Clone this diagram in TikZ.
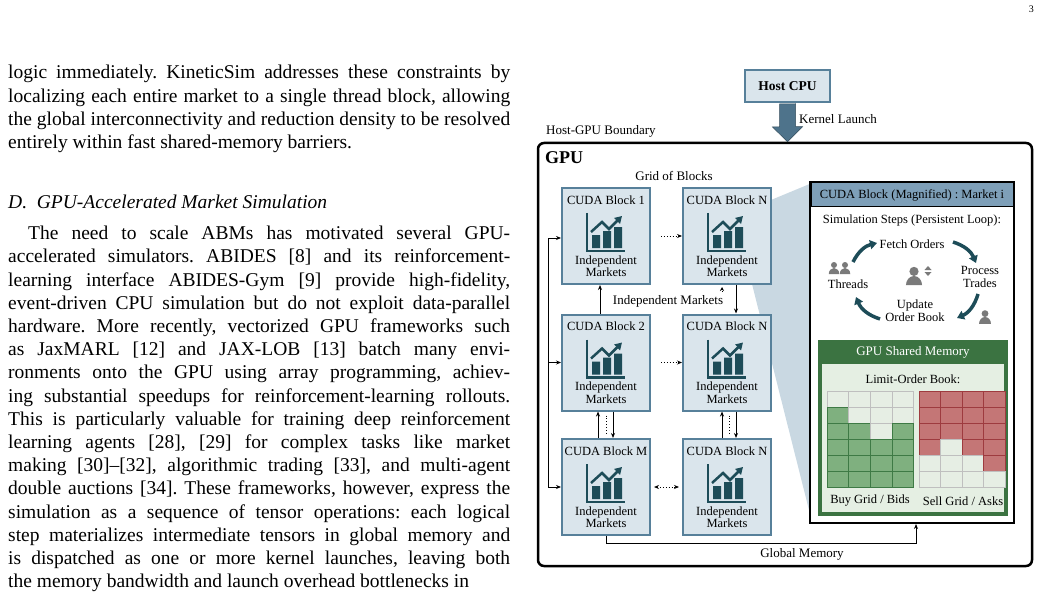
\documentclass[tikz,border=0pt]{standalone}
\usepackage{fontspec}
\setmainfont{Liberation Serif}
\usetikzlibrary{positioning,arrows.meta,calc}
\definecolor{blkfill}{HTML}{DAE5EC}
\definecolor{blkline}{HTML}{57809A}
\definecolor{hdrfill}{HTML}{7E9FB8}
\definecolor{fanfill}{HTML}{C9D8E2}
\definecolor{teal}{HTML}{1D4C58}
\definecolor{memgreen}{HTML}{3B7341}
\definecolor{memlight}{HTML}{E5EFE3}
\definecolor{cellg}{HTML}{7FB07F}
\definecolor{cellgl}{HTML}{3E7A45}
\definecolor{cellr}{HTML}{C47676}
\definecolor{cellrl}{HTML}{9E3B3F}
\definecolor{celle}{HTML}{E6EEE4}
\definecolor{persgray}{HTML}{7A7A7A}
\tikzset{
  blk/.style={draw=blkline,line width=2pt,fill=blkfill,minimum width=88,minimum height=96,inner sep=0},
  txt/.style={font=\fontsize{12.5}{13}\selectfont,inner sep=0,align=center},
  link/.style={-{Stealth[length=5,width=4]},line width=0.9pt},
  dots/.style={dotted,line width=0.9pt},
  cyc/.style={-{Triangle[length=7,width=9]},line width=3.5pt,teal},
}
\frenchspacing
\begin{document}
\begin{tikzpicture}[x=1pt,y=-1pt]
\useasboundingbox (0,0) rectangle (1041,596);
\newcommand\mkticon[2]{
\begin{scope}[shift={(#1,#2)}]
\draw[teal,line width=2.2pt] (-19,-19) -- (-19,19) -- (19,19);
\fill[teal] (-14,16) rectangle (-6,3) (-3,16) rectangle (5,-1) (8,16) rectangle (16,-5);
\draw[teal,line width=2.5pt,-{Triangle[length=7,width=8]}] (-15,0) -- (-4,-10) -- (3,-3) -- (16,-16);
\end{scope}
}
\newcommand\cblock[4]{
\node[blk] (#1) at (#2,#3) {};
\node[txt] (#1t) at (#2,#3-36) {#4};
\mkticon{#2}{#3-4}
\node[txt,font=\fontsize{12.5}{12.5}\selectfont] (#1m) at (#2,#3+30) {Independent\\Markets};
}
\newcommand\pers[3]{
\begin{scope}[shift={(#1,#2)},scale=#3]
\fill[persgray] (0,-4) circle (4);
\fill[persgray] (-7,8) arc (180:360:7 and 8) -- cycle;
\end{scope}
}
% page text
\node[anchor=north east,inner sep=0,font=\fontsize{10}{10}\selectfont] (pnum) at (1034,6) {3};
\node[anchor=north west,inner sep=0,text width=502,align=justify,font=\fontsize{19.5}{23.4}\selectfont] (para1) at (8,65)
{logic immediately. KineticSim addresses these constraints by\linebreak localizing each entire market to a single thread block, allowing\linebreak the global interconnectivity and reduction density to be resolved\linebreak entirely within fast shared-memory barriers.};
\node[anchor=north west,inner sep=0,font=\fontsize{19.5}{20}\itshape] (sec) at (8,195) {D.\ \ GPU-Accelerated Market Simulation};
\node[anchor=north west,inner sep=0,text width=502,align=justify,font=\fontsize{19.5}{23.2}\selectfont] (para2) at (8,226)
{\hspace*{20pt}The need to scale ABMs has motivated several GPU-\linebreak accelerated simulators. ABIDES [8] and its reinforcement-\linebreak learning interface ABIDES-Gym [9] provide high-fidelity,\linebreak event-driven CPU simulation but do not exploit data-parallel\linebreak hardware. More recently, vectorized GPU frameworks such\linebreak as JaxMARL [12] and JAX-LOB [13] batch many envi-\linebreak ronments onto the GPU using array programming, achiev-\linebreak ing substantial speedups for reinforcement-learning rollouts.\linebreak This is particularly valuable for training deep reinforcement\linebreak learning agents [28], [29] for complex tasks like market\linebreak making [30]--[32], algorithmic trading [33], and multi-agent\linebreak double auctions [34]. These frameworks, however, express the\linebreak simulation as a sequence of tensor operations: each logical\linebreak step materializes intermediate tensors in global memory and\linebreak is dispatched as one or more kernel launches, leaving both\linebreak the memory bandwidth and launch overhead bottlenecks in};
% host and gpu frame
\node[draw=blkline,line width=2pt,fill=blkfill,minimum width=85,minimum height=32,font=\fontsize{13.5}{14}\bfseries] (cpu) at (787.5,86) {Host CPU};
\node[draw=black,line width=2.5pt,rounded corners=6,minimum width=494,minimum height=423,inner sep=0] (gpu) at (785,354.5) {};
\draw[fill=blkline!90!black,draw=blkline!60!black,line width=0.5pt] ($(cpu.south)+(-8,1)$) -- ++(0,23) -- ++(-7,0) -- (gpu.north -| cpu.south) -- ++(15,-15) -- ++(-7,0) -- ++(0,-23) -- cycle;
\node[txt,anchor=west,font=\fontsize{13}{14}\selectfont] (kl) at (799,119) {Kernel Launch};
\node[txt,anchor=west,font=\fontsize{13}{14}\selectfont] (hgb) at (546,131) {Host-GPU Boundary};
\node[txt,anchor=west,font=\fontsize{18}{18}\bfseries] (gpul) at (545,158) {GPU};
\node[txt,font=\fontsize{13}{14}\selectfont] (grid) at (674,176) {Grid of Blocks};
% fan to magnified block
\fill[fanfill] (771,200) -- (812,183) -- (812,522) -- (752,284) -- cycle;
% blocks
\cblock{b1}{606}{236}{CUDA Block 1}
\cblock{b1n}{727}{236}{CUDA Block N}
\cblock{b2}{606}{362.5}{CUDA Block 2}
\cblock{b2n}{727}{362.5}{CUDA Block N}
\cblock{bm}{606}{487}{CUDA Block M}
\cblock{bmn}{727}{487}{CUDA Block N}
\draw[link,dots] ($(b1.east)+(10,0)$) -- (b1n.west);
\draw[link,dots] ($(b2.east)+(10,0)$) -- (b2n.west);
\draw[link,dots,{Stealth[length=5,width=4]}-{Stealth[length=5,width=4]}] ($(bm.east)+(3,0)$) -- ($(bmn.west)+(-3,0)$);
\draw[link] (b2.north -| 600,0) -- (b1.south -| 600,0);
\draw[link] (b1n.south -| 736,0) -- (b2n.north -| 736,0);
\draw[link,dots,-{Stealth[length=4,width=4]}] ($(b1n.south)+(-5,10)$) -- ($(b1n.south)+(-5,2)$);
\node[txt,font=\fontsize{13}{14}\selectfont,fill=white,inner sep=1] (im) at (668,301) {Independent Markets};
\draw[link] (bm.north -| 598,0) -- (b2.south -| 598,0);
\draw[dots] (b2.south -| 606,0) ++(0,4) -- ++(0,20);
\draw[link] (b2.south -| 613,0) -- (bm.north -| 613,0);
\draw[link] (bmn.north -| 722,0) -- (b2n.south -| 722,0);
\draw[dots] (b2n.south -| 729,0) ++(0,4) -- ++(0,20);
\draw[link] (b2n.south -| 736,0) -- (bmn.north -| 736,0);
\coordinate (lt) at (548,238);
\coordinate (lb) at (548,487);
\draw[line width=0.9pt] (lt) -- (lb);
\draw[link] (lt) -- (b1.west |- lt);
\draw[link] (548,362.5) -- (b2.west);
\draw[link] (lb) -- (bm.west);
% magnified block
\node[draw=black,line width=2pt,fill=white,minimum width=204,minimum height=341,inner sep=0] (mag) at (912,352.5) {};
\node[draw=black,line width=1pt,fill=hdrfill,minimum width=202,minimum height=24,inner sep=0,font=\fontsize{12.5}{13}\selectfont] (magh) at (912,195) {CUDA Block (Magnified) : Market i};
\coordinate (gm) at (916,543);
\draw[link] (bm.south) |- (gm) -- (mag.south -| gm);
\node[txt,font=\fontsize{13}{14}\selectfont,fill=white,inner sep=1] (glob) at (802,554) {Global Memory};
\node[txt] (steps) at (912,220) {Simulation Steps (Persistent Loop):};
\node[txt] (fetch) at (912,244) {Fetch Orders};
\node[txt] (proc) at (980,277) {Process\\Trades};
\node[txt] (upd) at (915,311) {Update\\Order Book};
\node[txt] (thr) at (848,284) {Threads};
\pers{834}{268}{0.75}
\pers{845}{268}{0.75}
\pers{914}{276}{1.15}
\fill[persgray] (928,266) -- ++(3.5,4) -- ++(-7,0) -- cycle (928,276) -- ++(3.5,-4) -- ++(-7,0) -- cycle;
\pers{985}{317}{0.85}
\draw[cyc] (853,262) to[bend left=25] (877,243);
\draw[cyc] (953,242) to[bend left=25] (976,263);
\draw[cyc] (978,294) to[bend left=25] (957,318);
\draw[cyc] (880,319) to[bend left=25] (856,297);
% shared memory
\node[fill=memgreen,minimum width=190,minimum height=176,inner sep=0] (shm) at (913,428) {};
\node[txt,text=white,font=\fontsize{13}{14}\selectfont] (shmh) at (913,352) {GPU Shared Memory};
\node[fill=memlight,minimum width=182,minimum height=148,inner sep=0] (lob) at (913,438) {};
\node[txt] (lobl) at (913,379) {Limit-Order Book:};
\foreach \r/\a/\b/\c/\d in {0/0/0/0/0,1/1/0/0/0,2/1/1/0/1,3/1/1/1/1,4/1/1/1/1,5/1/1/1/1}{
  \foreach \k/\v in {0/\a,1/\b,2/\c,3/\d}{
    \ifnum\v=1 \draw[cellgl,fill=cellg,line width=0.8pt] (827+21.7*\k,391+16*\r) rectangle ++(21.7,16);
    \else \draw[black!25,fill=celle,line width=0.8pt] (827+21.7*\k,391+16*\r) rectangle ++(21.7,16); \fi
  }
}
\foreach \r/\a/\b/\c/\d in {0/1/1/1/1,1/1/1/1/1,2/1/1/1/1,3/1/0/1/1,4/0/0/0/1,5/0/0/0/0}{
  \foreach \k/\v in {0/\a,1/\b,2/\c,3/\d}{
    \ifnum\v=1 \draw[cellrl,fill=cellr,line width=0.8pt] (919+21.6*\k,391+16*\r) rectangle ++(21.6,16);
    \else \draw[black!25,fill=celle,line width=0.8pt] (919+21.6*\k,391+16*\r) rectangle ++(21.6,16); \fi
  }
}
\node[txt] (buy) at (870,501) {Buy Grid / Bids};
\node[txt] (sell) at (963,501) {Sell Grid / Asks};
\end{tikzpicture}
\end{document}
